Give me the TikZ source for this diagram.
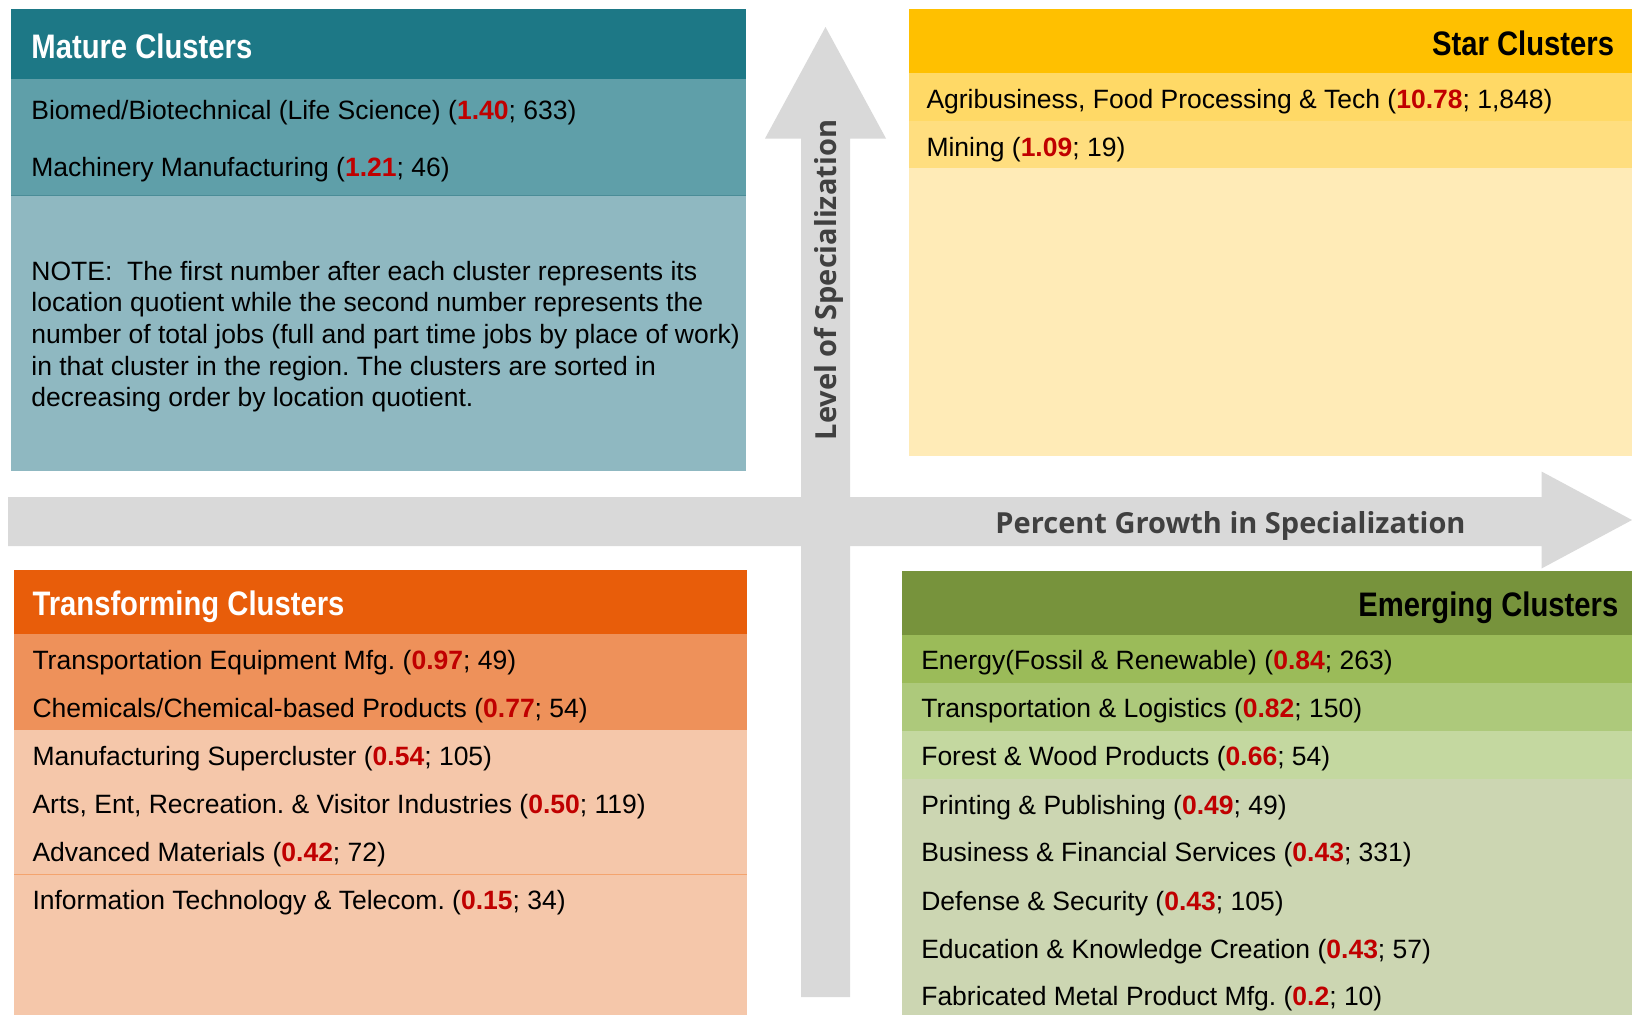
\documentclass[tikz,border=0pt]{standalone}
\usepackage{fontspec}
\setmainfont{Liberation Sans}
\newfontfamily\hdfont[FakeStretch=0.86]{Liberation Sans}
\newfontfamily\axfont{Open Sans}
\definecolor{qred}{HTML}{C00000}
\definecolor{arrowgray}{HTML}{D9D9D9}
\definecolor{axgray}{HTML}{404040}
\definecolor{matHead}{HTML}{1D7886}
\definecolor{matBand}{HTML}{5F9FA9}
\definecolor{matLight}{HTML}{8FB8C1}
\definecolor{matLine}{HTML}{4A8C97}
\definecolor{starHead}{HTML}{FFC000}
\definecolor{starRowA}{HTML}{FFD966}
\definecolor{starRowB}{HTML}{FFDE7F}
\definecolor{starLight}{HTML}{FFEBB7}
\definecolor{trHead}{HTML}{E85D0A}
\definecolor{trBand}{HTML}{EE915A}
\definecolor{trLight}{HTML}{F5C7AA}
\definecolor{trLine}{HTML}{F4A46E}
\definecolor{emHead}{HTML}{77933C}
\definecolor{emRowA}{HTML}{9BBB59}
\definecolor{emRowB}{HTML}{ADC97B}
\definecolor{emRowC}{HTML}{C4D8A0}
\definecolor{emLight}{HTML}{CCD6B2}
\newcommand\qnum[1]{\textcolor{qred}{\bfseries #1}}
\frenchspacing
\begin{document}
\begin{tikzpicture}[x=1pt,y=-1pt,
  item/.style={anchor=base west, inner sep=0pt, font=\frenchspacing\fontsize{26.5}{31}\selectfont, text=black},
  hd/.style={inner sep=0pt, font=\hdfont\bfseries\fontsize{34}{40}\selectfont},
  axis/.style={inner sep=0pt, font=\axfont\bfseries\fontsize{29}{34}\selectfont, text=axgray}]
\useasboundingbox (0,0) rectangle (1632,1015);
\fill[white] (0,0) rectangle (1632,1015);
% axes arrows
\fill[arrowgray] (801,997) -- (801,138.5) -- (765,138.5) -- (825.5,27) -- (886,138.5) -- (850,138.5) -- (850,997) -- cycle;
\fill[arrowgray] (8,497) -- (1541.5,497) -- (1541.5,471.5) -- (1632,520) -- (1541.5,568.5) -- (1541.5,546) -- (8,546) -- cycle;
\node[axis, anchor=base] (xlab) at (1230.5,533.3) {Percent Growth in Specialization};
\node[axis, anchor=base, rotate=90] (ylab) at (836,280) {Level of Specialization};
% Mature
\fill[matLight] (11,9.4) rectangle (746,470.5);
\fill[matHead] (11,9.4) rectangle (746,78.5);
\fill[matBand] (11,78.5) rectangle (746,195.5);
\draw[matLine, line width=1.2pt] (11,195.5) -- (746,195.5);
\node[hd, anchor=base west, text=white] (matTitle) at (31.2,58.3) {Mature Clusters};
\node[item] (m1) at (31.2,119.3) {Biomed/Biotechnical (Life Science) (\qnum{1.40}; 633)};
\node[item] (m2) at (31.2,176.7) {Machinery Manufacturing (\qnum{1.21}; 46)};
\node[item] (n1) at (31.2,280) {NOTE:\ \ The first number after each cluster represents its};
\node[item] (n2) at (31.2,311.7) {location quotient while the second number represents the};
\node[item] (n3) at (31.2,343.3) {number of total jobs (full and part time jobs by place of work)};
\node[item] (n4) at (31.2,375) {in that cluster in the region. The clusters are sorted in};
\node[item] (n5) at (31.2,406.7) {decreasing order by location quotient.};
% Star
\fill[starLight] (908.6,9.4) rectangle (1632,456);
\fill[starHead] (908.6,9.4) rectangle (1632,72.7);
\fill[starRowA] (908.6,72.7) rectangle (1632,120.7);
\fill[starRowB] (908.6,120.7) rectangle (1632,168.3);
\node[hd, anchor=base east, text=black] (starTitle) at (1614.3,55) {Star Clusters};
\node[item] (s1) at (926.3,108.3) {Agribusiness, Food Processing \& Tech (\qnum{10.78}; 1,848)};
\node[item] (s2) at (926.3,156.7) {Mining (\qnum{1.09}; 19)};
% Transforming
\fill[trLight] (14,570.4) rectangle (747.3,1015);
\fill[trHead] (14,570.4) rectangle (747.3,634);
\fill[trBand] (14,634) rectangle (747.3,730);
\draw[trLine, line width=1pt] (14,874.3) -- (747.3,874.3);
\node[hd, anchor=base west, text=white] (trTitle) at (32.3,615) {Transforming Clusters};
\node[item] (t1) at (32.3,669) {Transportation Equipment Mfg. (\qnum{0.97}; 49)};
\node[item] (t2) at (32.3,717) {Chemicals/Chemical-based Products (\qnum{0.77}; 54)};
\node[item] (t3) at (32.3,765.5) {Manufacturing Supercluster (\qnum{0.54}; 105)};
\node[item] (t4) at (32.3,813.5) {Arts, Ent, Recreation. \& Visitor Industries (\qnum{0.50}; 119)};
\node[item] (t5) at (32.3,861.5) {Advanced Materials (\qnum{0.42}; 72)};
\node[item] (t6) at (32.3,909) {Information Technology \& Telecom. (\qnum{0.15}; 34)};
% Emerging
\fill[emLight] (902.4,571) rectangle (1632,1015);
\fill[emHead] (902.4,571) rectangle (1632,635);
\fill[emRowA] (902.4,635) rectangle (1632,682.7);
\fill[emRowB] (902.4,682.7) rectangle (1632,731);
\fill[emRowC] (902.4,731) rectangle (1632,779);
\node[hd, anchor=base east, text=black] (emTitle) at (1618.5,616.7) {Emerging Clusters};
\node[item] (e1) at (921.1,669.5) {Energy(Fossil \& Renewable) (\qnum{0.84}; 263)};
\node[item] (e2) at (921.1,717.5) {Transportation \& Logistics (\qnum{0.82}; 150)};
\node[item] (e3) at (921.1,765.8) {Forest \& Wood Products (\qnum{0.66}; 54)};
\node[item] (e4) at (921.1,814) {Printing \& Publishing (\qnum{0.49}; 49)};
\node[item] (e5) at (921.1,861.7) {Business \& Financial Services (\qnum{0.43}; 331)};
\node[item] (e6) at (921.1,910) {Defense \& Security (\qnum{0.43}; 105)};
\node[item] (e7) at (921.1,958.3) {Education \& Knowledge Creation (\qnum{0.43}; 57)};
\node[item] (e8) at (921.1,1005.7) {Fabricated Metal Product Mfg. (\qnum{0.2}; 10)};
\end{tikzpicture}
\end{document}
